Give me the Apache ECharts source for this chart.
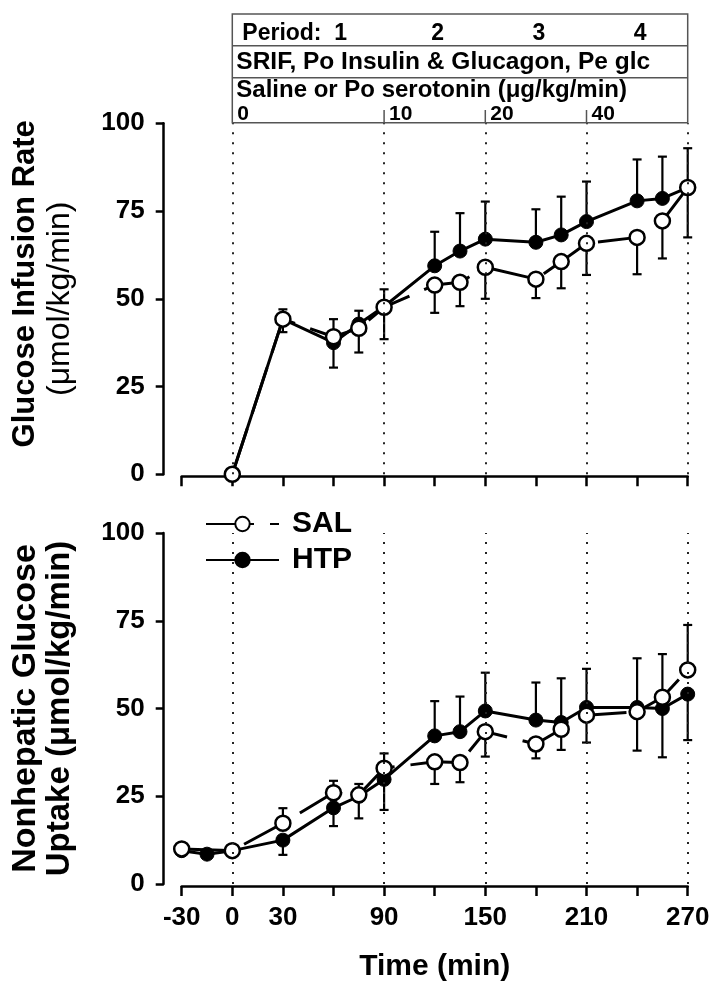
<!DOCTYPE html>
<html><head><meta charset="utf-8">
<script src="https://cdn.jsdelivr.net/npm/echarts@6/dist/echarts.min.js"></script>
<style>html,body{margin:0;padding:0;background:#fff}#c{width:719px;height:994px}</style>
</head><body><div id="c"></div>
<script>
// ---------- data ----------
const timesTop = [0, 30, 60, 75, 90, 120, 135, 150, 180, 195, 210, 240, 255, 270];
const salTop   = [0, 44.2, 39.2, 41.6, 47.6, 53.9, 54.7, 59, 55.6, 60.6, 65.8, 67.5, 72.2, 81.7];
const htpTop   = [0, 44.2, 37.5, 42.8, 47.8, 59.4, 63.6, 67, 66.1, 68.2, 72, 77.9, 78.6, 81.7];
const salTopHi = [null, 47, null, 46.6, null, null, null, null, null, null, null, null, null, 92.9];
const salTopLo = [null, 40.5, null, 34.7, null, 46, 47.9, 50, 50.2, 53, 56.8, 57, 61.5, 67.5];
const htpTopHi = [null, null, 44.2, null, 52.7, 69.1, 74.4, 77.7, 75.5, 79.1, 83.4, 89.7, 90.5, null];
const htpTopLo = [null, null, 30.4, null, 38.5, null, null, null, null, null, null, null, null, null];

const timesSalBot = [-30, 0, 30, 60, 75, 90, 120, 135, 150, 180, 195, 210, 240, 255, 270];
const salBot   = [10, 9.5, 17.3, 26, 25.4, 33, 34.8, 34.6, 43.4, 39.9, 44.1, 48.1, 49.1, 53.2, 61];
const salBotHi = [null, null, 21.6, 29.4, 28.5, 37.2, null, null, null, null, null, null, null, 65.5, 73.8];
const salBotLo = [null, null, null, null, 18.7, null, 28.5, 29, 36.3, 35.8, 38.2, 40.3, 38, null, null];
const timesHtpBot = [-30, -15, 0, 30, 60, 75, 90, 120, 135, 150, 180, 195, 210, 240, 255, 270];
const htpBot   = [9.5, 8.5, 9.5, 12.5, 21.7, 25, 29.8, 42.2, 43.4, 49.3, 46.7, 46, 50.3, 50.3, 50, 54.1];
const htpBotHi = [null, null, null, null, null, null, null, 52.1, 53.4, 60.2, 57.4, 58.6, 61.3, 64.3, null, null];
const htpBotLo = [null, null, null, 8.3, 16.5, null, 21.1, null, null, null, null, null, null, null, 36.1, 41];

const xTickLabels = [-30, 0, 30, 90, 150, 210, 270];
const refTimes = [0, 90, 150, 210, 270];
const periodLabels = ['Period:  1', '2', '3', '4'];
const periodBounds = [0, 90, 150, 210, 270];
const doseTimes = [0, 90, 150, 210];
const doseLabels = ['0', '10', '20', '40'];
const treatmentText = 'SRIF, Po Insulin & Glucagon, Pe glc';
const infusionText = 'Saline or Po serotonin (\u03bcg/kg/min)';
const seriesNames = ['SAL', 'HTP'];

// ---------- helpers ----------
const FONT = '"Liberation Sans", Arial, Helvetica, sans-serif';
function pairs(ts, vs) { return ts.map((t, i) => [t, vs[i]]); }
function errData(ts, vs, hi, lo) {
  const out = [];
  ts.forEach((t, i) => {
    if (hi[i] == null && lo[i] == null) return;
    out.push([t, lo[i] == null ? vs[i] : lo[i], hi[i] == null ? vs[i] : hi[i], lo[i] == null ? 0 : 1, hi[i] == null ? 0 : 1]);
  });
  return out;
}
function errRender(params, api) {
  const t = api.value(0), lo = api.value(1), hi = api.value(2);
  const p1 = api.coord([t, lo]), p2 = api.coord([t, hi]);
  const st = { stroke: '#000', lineWidth: 2.2 };
  const ch = [{ type: 'line', shape: { x1: p1[0], y1: p1[1], x2: p2[0], y2: p2[1] }, style: st }];
  if (api.value(3)) ch.push({ type: 'line', shape: { x1: p1[0] - 4.5, y1: p1[1], x2: p1[0] + 4.5, y2: p1[1] }, style: st });
  if (api.value(4)) ch.push({ type: 'line', shape: { x1: p2[0] - 4.5, y1: p2[1], x2: p2[0] + 4.5, y2: p2[1] }, style: st });
  return { type: 'group', children: ch };
}
const salStyle = {
  symbol: 'circle', symbolSize: 15,
  itemStyle: { color: '#fff', borderColor: '#000', borderWidth: 2.5 },
  lineStyle: { color: '#000', width: 3, type: [48, 16] }
};
const htpStyle = {
  symbol: 'circle', symbolSize: 14,
  itemStyle: { color: '#000', borderColor: '#000', borderWidth: 1 },
  lineStyle: { color: '#000', width: 3, type: 'solid' }
};
function refLines() {
  return {
    silent: true, symbol: 'none', label: { show: false },
    lineStyle: { type: [2, 8], color: '#222', width: 2 },
    emphasis: { disabled: true },
    data: refTimes.map(t => ({ xAxis: t }))
  };
}
function xAx(gi, labels) {
  return {
    type: 'value', gridIndex: gi, min: -30, max: 270, interval: 30, offset: 2,
    axisLine: { onZero: false, lineStyle: { color: '#000', width: 2.5 } },
    axisTick: { length: 10, lineStyle: { color: '#000', width: 2.5 } },
    splitLine: { show: false },
    axisLabel: {
      show: labels, margin: 19, color: '#000', fontSize: 26, fontWeight: 'bold', fontFamily: FONT,
      formatter: v => xTickLabels.indexOf(v) >= 0 ? String(v) : ''
    }
  };
}
function yAx(gi, name, aSize, bSize, bBold, aPad, gap) {
  return {
    type: 'value', gridIndex: gi, min: 0, max: 100, interval: 25, offset: 18,
    axisLine: { show: true, onZero: false, lineStyle: { color: '#000', width: 2.5 } },
    axisTick: { show: true, length: 8, lineStyle: { color: '#000', width: 2.5 } },
    splitLine: { show: false },
    axisLabel: { margin: 19, color: '#000', fontSize: 26, fontWeight: 'bold', fontFamily: FONT },
    name: name, nameLocation: 'middle', nameRotate: 90, nameGap: gap,
    nameTextStyle: {
      color: '#000', fontFamily: FONT,
      rich: {
        a: { fontSize: aSize, fontWeight: 'bold', lineHeight: 35, fontFamily: FONT, color: '#000', padding: [0, 0, 0, aPad] },
        b: { fontSize: bSize, fontWeight: bBold ? 'bold' : 'normal', lineHeight: 35, fontFamily: FONT, color: '#000' }
      }
    }
  };
}

const chart = echarts.init(document.getElementById('c'), null, { renderer: 'canvas' });
const option = {
  animation: false,
  backgroundColor: '#fff',
  grid: [
    { left: 181.7, right: 31.3, top: 123.3, height: 351, outerBoundsMode: 'none', containLabel: false },
    { left: 181.7, right: 31.3, top: 533, height: 351, outerBoundsMode: 'none', containLabel: false }
  ],
  xAxis: [
    xAx(0, false),
    Object.assign(xAx(1, true), { name: 'Time (min)', nameLocation: 'middle', nameGap: 66,
      nameTextStyle: { color: '#000', fontSize: 30, fontWeight: 'bold', fontFamily: FONT } })
  ],
  yAxis: [
    yAx(0, '{a|Glucose Infusion Rate}\n{b|(\u03bcmol/kg/min)}', 31, 32, false, 30, 86),
    yAx(1, '{a|Nonhepatic Glucose}\n{b|Uptake (\u03bcmol/kg/min)}', 34, 33, true, 0, 86)
  ],
  legend: {
    data: seriesNames, orient: 'vertical', left: 200, top: 504,
    itemWidth: 73, itemHeight: 18, itemGap: 6,
    textStyle: { fontSize: 30, fontWeight: 'bold', color: '#000', fontFamily: FONT, padding: [0, 0, 0, 8] },
    selectedMode: false
  },
  series: [
    { type: 'custom', name: 'errTop', xAxisIndex: 0, yAxisIndex: 0, z: 1, renderItem: errRender,
      encode: { x: 0, y: [1, 2] },
      data: errData(timesTop, salTop, salTopHi, salTopLo).concat(errData(timesTop, htpTop, htpTopHi, htpTopLo)) },
    { type: 'custom', name: 'errBot', xAxisIndex: 1, yAxisIndex: 1, z: 1, renderItem: errRender,
      encode: { x: 0, y: [1, 2] },
      data: errData(timesSalBot, salBot, salBotHi, salBotLo).concat(errData(timesHtpBot, htpBot, htpBotHi, htpBotLo)) },
    Object.assign({ type: 'line', name: 'HTP', xAxisIndex: 0, yAxisIndex: 0, z: 2, data: pairs(timesTop, htpTop), markLine: refLines() }, htpStyle),
    Object.assign({ type: 'line', name: 'SAL', xAxisIndex: 0, yAxisIndex: 0, z: 3, data: pairs(timesTop, salTop) }, salStyle),
    Object.assign({ type: 'line', name: 'HTP', xAxisIndex: 1, yAxisIndex: 1, z: 2, data: pairs(timesHtpBot, htpBot), markLine: refLines() }, htpStyle),
    Object.assign({ type: 'line', name: 'SAL', xAxisIndex: 1, yAxisIndex: 1, z: 3, data: pairs(timesSalBot, salBot) }, salStyle)
  ]
};
chart.setOption(option);

// ---------- protocol header, aligned to the time scale ----------
const px = t => chart.convertToPixel({ xAxisIndex: 0 }, t);
const x0 = px(periodBounds[0]), x1 = px(periodBounds[periodBounds.length - 1]);
const boxTop = 14, row1 = 45.7, row2 = 77.7, boxBot = 122.7;
const stroke = { stroke: '#555', lineWidth: 1.5 };
const g = [];
g.push({ type: 'rect', shape: { x: x0, y: boxTop, width: x1 - x0, height: boxBot - boxTop }, style: Object.assign({ fill: 'none' }, stroke) });
g.push({ type: 'line', shape: { x1: x0, y1: row1, x2: x1, y2: row1 }, style: stroke });
g.push({ type: 'line', shape: { x1: x0, y1: row2, x2: x1, y2: row2 }, style: stroke });
periodLabels.forEach((lab, i) => {
  if (i === 0) {
    g.push({ type: 'text', style: { text: lab, x: x0 + 10, y: 34, textAlign: 'left', textVerticalAlign: 'middle', font: 'bold 23px ' + FONT, fill: '#000' } });
  } else {
    g.push({ type: 'text', style: { text: lab, x: px((periodBounds[i] + periodBounds[i + 1]) / 2) + 3, y: 34, textAlign: 'center', textVerticalAlign: 'middle', font: 'bold 23px ' + FONT, fill: '#000' } });
  }
});
g.push({ type: 'text', style: { text: treatmentText, x: x0 + 4, y: 62, textAlign: 'left', textVerticalAlign: 'middle', font: 'bold 24.5px ' + FONT, fill: '#000' } });
g.push({ type: 'text', style: { text: infusionText, x: x0 + 4, y: 90, textAlign: 'left', textVerticalAlign: 'middle', font: 'bold 24px ' + FONT, fill: '#000' } });
doseTimes.forEach((t, i) => {
  const xx = px(t);
  if (i > 0) g.push({ type: 'line', shape: { x1: xx, y1: 110, x2: xx, y2: boxBot }, style: stroke });
  g.push({ type: 'text', style: { text: doseLabels[i], x: xx + 5, y: 114, textAlign: 'left', textVerticalAlign: 'middle', font: 'bold 21px ' + FONT, fill: '#000' } });
});
chart.setOption({ graphic: g });
</script>
</body></html>
